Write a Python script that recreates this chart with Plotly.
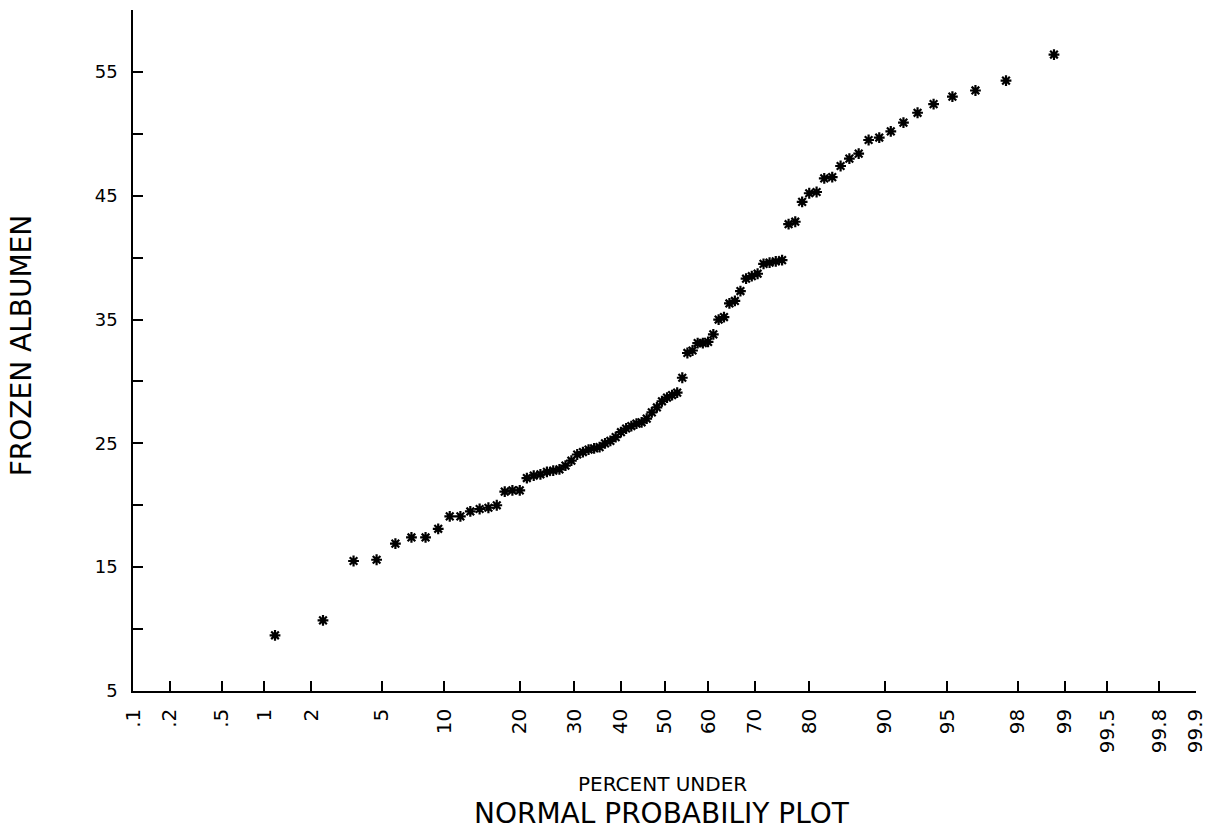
import plotly.graph_objects as go
from statistics import NormalDist

# ---- data ----
frozen_albumen = [
    9.5, 10.7, 15.5, 15.6, 16.9, 17.4, 17.4, 18.1, 19.1, 19.1,
    19.5, 19.7, 19.8, 20.0, 21.1, 21.2, 21.2, 22.2, 22.4, 22.5,
    22.7, 22.8, 22.9, 23.2, 23.6, 24.1, 24.3, 24.5, 24.6, 24.7,
    25.0, 25.2, 25.5, 25.9, 26.2, 26.4, 26.6, 26.7, 27.0, 27.5,
    27.9, 28.4, 28.7, 28.9, 29.1, 30.3, 32.3, 32.5, 33.1, 33.1,
    33.2, 33.8, 35.0, 35.2, 36.3, 36.5, 37.3, 38.3, 38.5, 38.7,
    39.5, 39.6, 39.7, 39.8, 42.7, 42.9, 44.5, 45.2, 45.3, 46.4,
    46.5, 47.4, 48.0, 48.4, 49.5, 49.7, 50.2, 50.9, 51.7, 52.4,
    53.0, 53.5, 54.3, 56.4,
]
percent_ticks = [0.1, 0.2, 0.5, 1, 2, 5, 10, 20, 30, 40, 50, 60, 70, 80,
                 90, 95, 98, 99, 99.5, 99.8, 99.9]
percent_labels = [".1", ".2", ".5", "1", "2", "5", "10", "20", "30", "40",
                  "50", "60", "70", "80", "90", "95", "98", "99", "99.5",
                  "99.8", "99.9"]
y_ticks = [5, 10, 15, 20, 25, 30, 35, 40, 45, 50, 55, 60]
y_labels = ["5", "", "15", "", "25", "", "35", "", "45", "", "55", ""]

# ---- normal probability scale ----
nd = NormalDist()
n = len(frozen_albumen)
values = sorted(frozen_albumen)
z_points = [nd.inv_cdf(i / (n + 1)) for i in range(1, n + 1)]
z_ticks = [nd.inv_cdf(p / 100.0) for p in percent_ticks]
zlim = nd.inv_cdf(0.999) + 0.0003

FONT = "DejaVu Sans"
W = "normal"

fig = go.Figure()
fig.add_trace(go.Scatter(
    x=z_points, y=values, mode="markers",
    marker=dict(symbol="asterisk-open", size=9,
                line=dict(width=2.2, color="black"), color="black"),
    showlegend=False, hoverinfo="skip",
))

fig.update_layout(
    width=1217, height=834,
    margin=dict(l=133, r=15, t=10, b=143),
    paper_bgcolor="white", plot_bgcolor="white",
    font=dict(family=FONT, color="black", size=17, weight=W),
    xaxis=dict(
        range=[-zlim, zlim], showgrid=False, zeroline=False,
        showline=True, linecolor="black", linewidth=1.5,
        ticks="inside", ticklen=10, tickwidth=1.5, tickcolor="black",
        tickmode="array", tickvals=z_ticks, ticktext=percent_labels,
        tickangle=-90, ticklabelstandoff=8,
        tickfont=dict(family=FONT, size=20, weight=W, color="black"),
    ),
    yaxis=dict(
        range=[5, 60], showgrid=False, zeroline=False,
        showline=True, linecolor="black", linewidth=1.5,
        ticks="inside", ticklen=10, tickwidth=1.5, tickcolor="black",
        tickmode="array", tickvals=y_ticks, ticktext=y_labels,
        ticklabelstandoff=10,
        tickfont=dict(family=FONT, size=18, weight=W, color="black"),
    ),
    annotations=[
        dict(text="FROZEN ALBUMEN", xref="paper", yref="paper",
             x=-0.1048, y=0.507, textangle=-90, showarrow=False,
             xanchor="center", yanchor="middle",
             font=dict(family=FONT, size=28, weight=W, color="black")),
        dict(text="PERCENT UNDER", xref="paper", yref="paper",
             x=0.498, y=-0.1366, showarrow=False,
             xanchor="center", yanchor="middle",
             font=dict(family=FONT, size=20, weight=W, color="black")),
        dict(text="NORMAL PROBABILIY PLOT", xref="paper", yref="paper",
             x=0.498, y=-0.1806, showarrow=False,
             xanchor="center", yanchor="middle",
             font=dict(family=FONT, size=28, weight=W, color="black")),
    ],
)

fig.write_html("out.html")
